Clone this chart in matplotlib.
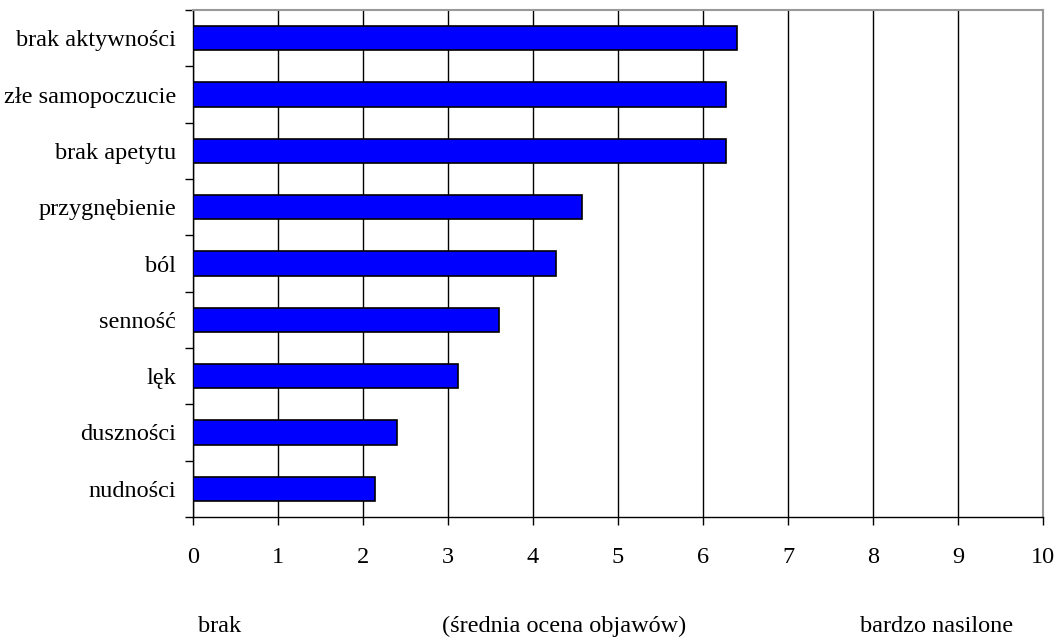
import matplotlib.pyplot as plt
import numpy as np

plt.rcParams['font.family'] = ['Liberation Serif', 'DejaVu Serif']

categories = ['brak aktywności', 'złe samopoczucie', 'brak apetytu', 'przygnębienie',
              'ból', 'senność', 'lęk', 'duszności', 'nudności']
values = [6.40, 6.27, 6.27, 4.58, 4.27, 3.60, 3.12, 2.40, 2.14]
x_ticks = list(range(0, 11))


def create_chart(output_path):
    fig = plt.figure(figsize=(10.58, 6.38), dpi=100)
    ax = fig.add_axes([193 / 1058, 1 - 517 / 638, 850 / 1058, 507 / 638])

    y = np.arange(len(categories))[::-1]
    ax.barh(y, values, height=0.43, color='#0000FF', edgecolor='black',
            linewidth=1.2, zorder=3)

    ax.set_xlim(0, 10)
    ax.set_ylim(-0.5, len(categories) - 0.5)
    ax.set_xticks(x_ticks)
    ax.set_xticklabels([str(t) for t in x_ticks])
    ax.grid(axis='x', color='black', linewidth=1, zorder=0)
    ax.set_axisbelow(True)

    ax.set_yticks(y)
    ax.set_yticklabels(categories)
    ax.set_yticks(np.arange(len(categories) + 1) - 0.5, minor=True)
    ax.tick_params(axis='y', which='major', length=0, pad=12, labelsize=17.5)
    ax.tick_params(axis='y', which='minor', length=6, width=1, direction='out')
    ax.tick_params(axis='x', length=6, width=1, pad=15.5, labelsize=17.5)

    for side in ['top', 'right']:
        ax.spines[side].set_color('#999999')
        ax.spines[side].set_linewidth(1.5)
    for side in ['left', 'bottom']:
        ax.spines[side].set_color('black')
        ax.spines[side].set_linewidth(1)

    # podpisy skali pod osią
    base_y = 1 - 632 / 638
    fig.text(220 / 1058, base_y, 'brak', ha='center', va='baseline', fontsize=17.5)
    fig.text(564 / 1058, base_y, '(średnia ocena objawów)', ha='center',
             va='baseline', fontsize=17.5)
    fig.text(937 / 1058, base_y, 'bardzo nasilone', ha='center', va='baseline',
             fontsize=17.5)

    fig.savefig(output_path, dpi=100)
    plt.close(fig)


if __name__ == '__main__':
    create_chart('out.png')
